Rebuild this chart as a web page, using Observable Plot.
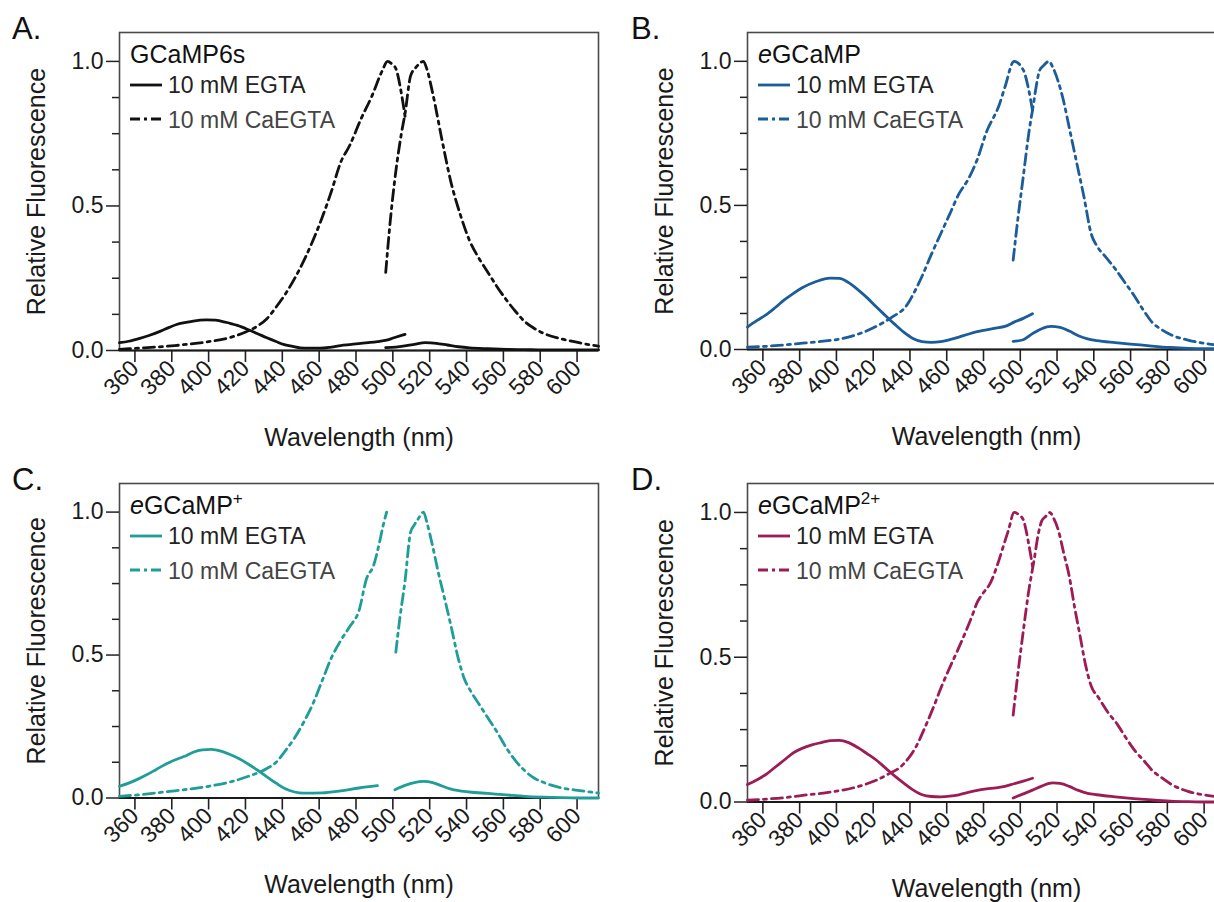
<!DOCTYPE html>
<html><head><meta charset="utf-8">
<script src="https://cdn.jsdelivr.net/npm/d3@7"></script>
<script src="https://cdn.jsdelivr.net/npm/@observablehq/plot@0.6"></script>
<style>
html,body{margin:0;padding:0;background:#fff;overflow:hidden;}
#fig{position:relative;width:1214px;height:902px;overflow:hidden;font-family:"Liberation Sans",Arial,sans-serif;}
.panel{position:absolute;}
#overlay{position:absolute;left:0;top:0;pointer-events:none;}
</style></head><body><div id="fig"></div>
<script>
// ---------- data (wavelength nm, relative fluorescence) ----------
const xTicks = [360,380,400,420,440,460,480,500,520,540,560,580,600];
const yMajor = [0, 0.5, 1.0];
const yMinor = [0.125, 0.25, 0.375, 0.625, 0.75, 0.875];
const seriesNames = ["10 mM EGTA", "10 mM CaEGTA"];
const panelLetters = ["A.", "B.", "C.", "D."];
const panelColors = ["#111111", "#1b5c9a", "#1f9d99", "#9c1d56"];

const A_EGTA_ex = [[350,0.027],[355,0.032],[361,0.042],[366,0.052],[372,0.066],[377,0.08],[381,0.09],[386,0.097],[390,0.102],[397,0.106],[402,0.105],[405,0.102],[410,0.094],[414,0.087],[421,0.069],[425,0.058],[430,0.044],[435,0.031],[439,0.021],[444,0.014],[448,0.009],[453,0.008],[459,0.008],[465,0.012],[470,0.017],[476,0.021],[481,0.025],[486,0.028],[490,0.031],[495,0.036],[499,0.044],[505,0.056]];
const A_EGTA_em = [[494.5,0.010],[500,0.012],[505,0.016],[510,0.021],[516,0.027],[522,0.025],[528,0.019],[534,0.013],[540,0.009],[550,0.006],[560,0.004],[570,0.003],[580,0.002],[595,0.002],[610,0.002]];
const A_Ca_ex = [[350,0.004],[360,0.008],[370,0.012],[380,0.017],[390,0.024],[400,0.032],[410,0.045],[420,0.068],[425,0.085],[430,0.11],[435,0.15],[440,0.195],[450,0.31],[460,0.46],[465,0.55],[470,0.65],[475,0.71],[481,0.80],[487,0.88],[492.5,0.966],[495.5,1.0],[498,0.99],[500,0.975],[503,0.89],[505,0.81]];
const A_Ca_em = [[494.5,0.27],[497,0.45],[500,0.62],[503,0.75],[505,0.82],[508,0.95],[511,0.98],[515,1.0],[517,0.97],[520,0.89],[525,0.73],[530,0.58],[535,0.47],[540,0.38],[545,0.32],[550,0.27],[555,0.22],[560,0.175],[565,0.135],[570,0.10],[575,0.077],[580,0.06],[590,0.04],[600,0.026],[610,0.015]];

const B_EGTA_ex = [[350,0.078],[355,0.1],[360,0.12],[365,0.145],[370,0.172],[375,0.195],[380,0.215],[387,0.235],[395,0.248],[400,0.247],[405,0.232],[410,0.208],[415,0.18],[420,0.148],[425,0.118],[430,0.088],[435,0.06],[440,0.038],[445,0.027],[450,0.025],[455,0.027],[460,0.034],[465,0.043],[470,0.053],[475,0.062],[480,0.068],[485,0.074],[490,0.08],[495,0.095],[500,0.108],[505,0.124]];
const B_EGTA_em = [[494.5,0.028],[500,0.034],[505,0.055],[510,0.072],[515,0.08],[520,0.077],[525,0.064],[530,0.048],[535,0.037],[540,0.031],[550,0.024],[560,0.018],[570,0.012],[580,0.007],[590,0.004],[600,0.003],[610,0.002]];
const B_Ca_ex = [[350,0.008],[360,0.011],[370,0.016],[380,0.022],[390,0.028],[400,0.036],[410,0.053],[420,0.08],[428,0.11],[437,0.157],[440,0.19],[445,0.255],[450,0.33],[455,0.40],[460,0.47],[465,0.54],[470,0.59],[475,0.66],[480,0.755],[487,0.85],[490,0.91],[495,1.0],[500,0.97],[503,0.9],[505,0.83]];
const B_Ca_em = [[494.5,0.31],[497,0.45],[500,0.6],[503,0.75],[505,0.83],[509,0.97],[511,0.985],[514,1.0],[516,0.98],[519,0.93],[522,0.86],[525,0.77],[530,0.62],[533,0.53],[537,0.4],[540,0.36],[545,0.32],[550,0.28],[555,0.235],[560,0.19],[565,0.14],[570,0.095],[575,0.07],[580,0.052],[590,0.032],[600,0.02],[610,0.012]];

const C_EGTA_ex = [[350,0.041],[355,0.052],[360,0.066],[365,0.082],[370,0.1],[375,0.118],[380,0.133],[385,0.145],[390,0.16],[395,0.168],[400,0.17],[405,0.164],[410,0.152],[415,0.137],[420,0.118],[425,0.097],[430,0.074],[435,0.052],[440,0.032],[445,0.021],[450,0.017],[460,0.018],[470,0.025],[480,0.035],[490,0.043]];
const C_EGTA_em = [[499.5,0.029],[505,0.044],[510,0.054],[515,0.058],[520,0.054],[525,0.042],[530,0.031],[540,0.021],[550,0.016],[560,0.011],[570,0.006],[580,0.003],[590,0.001],[600,0.0],[610,0.0]];
const C_Ca_ex = [[350,0.006],[360,0.011],[370,0.018],[380,0.025],[390,0.033],[400,0.043],[410,0.056],[420,0.076],[430,0.103],[435,0.125],[440,0.165],[445,0.21],[450,0.265],[455,0.33],[460,0.41],[465,0.49],[470,0.55],[475,0.6],[480,0.655],[484,0.765],[488,0.815],[491,0.89],[493,0.95],[495,1.0]];
const C_Ca_em = [[500,0.51],[502,0.62],[505,0.76],[508,0.93],[510,0.955],[512,0.975],[515,1.0],[517,0.96],[520,0.88],[523,0.79],[526,0.71],[530,0.6],[534,0.485],[537,0.42],[541,0.37],[545,0.33],[550,0.28],[555,0.23],[560,0.175],[565,0.13],[570,0.095],[575,0.07],[580,0.055],[590,0.035],[600,0.026],[610,0.017]];

const D_EGTA_ex = [[350,0.06],[355,0.076],[360,0.095],[365,0.12],[370,0.145],[375,0.17],[380,0.186],[385,0.197],[390,0.205],[395,0.212],[400,0.213],[405,0.205],[410,0.188],[415,0.167],[420,0.145],[425,0.118],[430,0.09],[435,0.065],[440,0.042],[445,0.025],[450,0.019],[455,0.018],[460,0.02],[465,0.025],[470,0.033],[475,0.04],[480,0.045],[485,0.049],[490,0.054],[495,0.063],[500,0.072],[505,0.082]];
const D_EGTA_em = [[494.5,0.014],[500,0.028],[505,0.041],[510,0.055],[516,0.066],[520,0.064],[525,0.054],[530,0.04],[535,0.03],[540,0.025],[550,0.018],[560,0.012],[570,0.007],[580,0.003],[590,0.001],[600,0.0],[610,0.0]];
const D_Ca_ex = [[350,0.006],[360,0.01],[370,0.015],[380,0.023],[390,0.03],[400,0.039],[410,0.053],[415,0.063],[420,0.075],[427,0.098],[433,0.12],[438,0.155],[442,0.195],[446,0.25],[451,0.325],[455,0.39],[459,0.45],[464,0.52],[468,0.578],[472,0.64],[475,0.69],[478,0.72],[482,0.755],[486,0.82],[489,0.88],[492,0.94],[495,1.0],[498,0.99],[500,0.975],[503,0.89],[505,0.815]];
const D_Ca_em = [[494.5,0.3],[497,0.44],[500,0.59],[503,0.73],[506,0.84],[508,0.92],[510,0.97],[512,0.985],[514.5,1.0],[516.5,0.98],[519,0.94],[522,0.86],[525,0.78],[528,0.67],[531,0.57],[534,0.47],[537,0.4],[541,0.36],[546,0.31],[551,0.27],[556,0.22],[561,0.175],[566,0.14],[570,0.11],[575,0.085],[580,0.063],[590,0.036],[600,0.023],[610,0.015]];

// ---------- layout / style ----------
const FONT = '"Liberation Sans", Arial, Helvetica, sans-serif';
const X_DOMAIN = [350, 610];
const Y_DOMAIN = [0, 1.1];
const DASHDOT = "11,5,3,5";
const LINE_W = 2.8;
const layout = [
  {left: 0,   top: 0,   width: 607, height: 451, ml: 119, mr: 9,  mt: 32, mb: 101},
  {left: 607, top: 0,   width: 640, height: 451, ml: 140, mr: 22, mt: 32, mb: 102},
  {left: 0,   top: 451, width: 607, height: 451, ml: 119, mr: 9,  mt: 32, mb: 104.5},
  {left: 607, top: 451, width: 640, height: 451, ml: 140, mr: 22, mt: 32, mb: 100.5}
];
const panelSeries = [
  [A_EGTA_ex, A_EGTA_em, A_Ca_ex, A_Ca_em],
  [B_EGTA_ex, B_EGTA_em, B_Ca_ex, B_Ca_em],
  [C_EGTA_ex, C_EGTA_em, C_Ca_ex, C_Ca_em],
  [D_EGTA_ex, D_EGTA_em, D_Ca_ex, D_Ca_em]
];

const fig = document.getElementById("fig");

panelSeries.forEach((arrs, i) => {
  const L = layout[i];
  const color = panelColors[i];
  const rows = [];
  const segNames = ["EGTA ex", "EGTA em", "CaEGTA ex", "CaEGTA em"];
  arrs.forEach((arr, k) => arr.forEach(([x, y]) => rows.push({x, y, seg: segNames[k], cond: k < 2 ? seriesNames[0] : seriesNames[1]})));
  const solid = rows.filter(d => d.cond === seriesNames[0]);
  const dashed = rows.filter(d => d.cond === seriesNames[1]);
  const plot = Plot.plot({
    width: L.width, height: L.height,
    marginLeft: L.ml, marginRight: L.mr, marginTop: L.mt, marginBottom: L.mb,
    style: {fontFamily: FONT, fontSize: "23px", color: "#1a1a1a", background: "transparent", overflow: "visible"},
    x: {domain: X_DOMAIN},
    y: {domain: Y_DOMAIN},
    marks: [
      Plot.frame({stroke: "#4a4a4a", strokeWidth: 1.6}),
      Plot.axisY(yMinor, {tickSize: 7, tickFormat: () => "", strokeWidth: 1.5, stroke: "#222", label: null}),
      Plot.axisY(yMajor, {tickSize: 13, tickPadding: 3, tickFormat: d3.format(".1f"), strokeWidth: 1.5, stroke: "#222", fontSize: 23, label: null}),
      Plot.axisX(xTicks, {tickSize: 12, tickPadding: 2, tickRotate: -45, textAnchor: "end", dx: -3, strokeWidth: 1.6, stroke: "#222", fontSize: 23, label: null}),
      Plot.ruleY([0], {stroke: "#1a1a1a", strokeWidth: 2.2}),
      Plot.text(["Wavelength (nm)"], {text: d => d, frameAnchor: "bottom", textAnchor: "middle", lineAnchor: "middle", dy: 87, fontSize: 25, fill: "#1a1a1a"}),
      Plot.text(["Relative Fluorescence"], {text: d => d, frameAnchor: "left", textAnchor: "middle", lineAnchor: "middle", dx: -83, rotate: -90, fontSize: 25, fill: "#1a1a1a"}),
      Plot.line(solid, {x: "x", y: "y", z: "seg", stroke: color, strokeWidth: LINE_W, curve: "monotone-x"}),
      Plot.line(dashed, {x: "x", y: "y", z: "seg", stroke: color, strokeWidth: LINE_W, curve: "monotone-x", strokeDasharray: DASHDOT})
    ]
  });
  plot.classList.add("panel");
  plot.style.left = L.left + "px";
  plot.style.top = L.top + "px";
  fig.appendChild(plot);
});

// ---------- overlay: panel letters and in-plot legends ----------
const NS = "http://www.w3.org/2000/svg";
const ov = document.createElementNS(NS, "svg");
ov.setAttribute("id", "overlay");
ov.setAttribute("width", 1214);
ov.setAttribute("height", 902);
ov.style.fontFamily = FONT;
fig.appendChild(ov);

function txt(x, y, size, fill, parts) {
  const t = document.createElementNS(NS, "text");
  t.setAttribute("x", x); t.setAttribute("y", y);
  t.setAttribute("font-size", size); t.setAttribute("fill", fill);
  parts.forEach(p => {
    const s = document.createElementNS(NS, "tspan");
    s.textContent = p.t;
    if (p.italic) s.setAttribute("font-style", "italic");
    if (p.sup) { s.setAttribute("font-size", size * 0.68); s.setAttribute("dy", -size * 0.42); }
    t.appendChild(s);
  });
  ov.appendChild(t);
}
function seg(x1, x2, y, color, dash) {
  const l = document.createElementNS(NS, "line");
  l.setAttribute("x1", x1); l.setAttribute("x2", x2); l.setAttribute("y1", y); l.setAttribute("y2", y);
  l.setAttribute("stroke", color); l.setAttribute("stroke-width", LINE_W);
  if (dash) l.setAttribute("stroke-dasharray", dash);
  ov.appendChild(l);
}
const titles = [
  [{t: "GCaMP6s"}],
  [{t: "e", italic: true}, {t: "GCaMP"}],
  [{t: "e", italic: true}, {t: "GCaMP"}, {t: "+", sup: true}],
  [{t: "e", italic: true}, {t: "GCaMP"}, {t: "2+", sup: true}]
];
layout.forEach((L, i) => {
  const fx = L.left + L.ml;      // frame left in page px
  const fy = L.top + L.mt;       // frame top in page px
  txt(L.left + (i % 2 ? 24 : 12), L.top + 39, 31, "#111", [{t: panelLetters[i]}]);
  txt(fx + 11, fy + 31, 25, "#111", titles[i]);
  seg(fx + 11, fx + 43, fy + 53, panelColors[i], null);
  txt(fx + 49, fy + 61, 23, "#222", [{t: seriesNames[0]}]);
  seg(fx + 11, fx + 43, fy + 87, panelColors[i], "10,4,3,4");
  txt(fx + 49, fy + 96, 23, "#444", [{t: seriesNames[1]}]);
});
</script></body></html>
